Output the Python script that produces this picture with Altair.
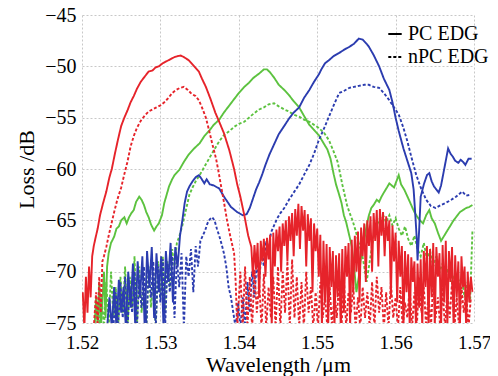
import altair as alt
import pandas as pd

# ---- data (wavelength in um, loss in dB) ----
red_pc = [(1.5201,-72),(1.5203,-75.5),(1.5205,-70.5),(1.5207,-74),(1.5209,-69.5),(1.5211,-72.5),(1.5213,-68.5),
 (1.5215,-67.5),(1.5217,-66.8),(1.5220,-65.8),(1.5223,-64.5),(1.5227,-63.3),(1.5231,-62.2),(1.5235,-60.8),
 (1.5238,-60.0),(1.5242,-58.5),(1.5246,-57.1),(1.5250,-55.8),(1.5254,-55.0),(1.5258,-54.3),(1.5262,-53.5),
 (1.5266,-52.9),(1.5270,-52.2),(1.5275,-51.5),(1.5280,-51.0),(1.5285,-50.5),(1.5290,-50.4),(1.5294,-50.1),
 (1.5298,-50.0),(1.5303,-49.7),(1.5308,-49.5),(1.5313,-49.3),(1.5318,-49.1),(1.5322,-49.0),(1.5326,-48.95),
 (1.5330,-49.1),(1.5336,-49.4),(1.5342,-49.9),(1.5349,-50.5),(1.5353,-51.2),(1.5358,-52.0),(1.5364,-53.2),
 (1.5370,-54.5),(1.5375,-55.4),(1.5381,-56.5),(1.5388,-58.2),(1.5394,-60.0),(1.5398,-61.5),(1.5402,-62.7),
 (1.5407,-64.5),(1.5412,-66.5),(1.5416,-67.6),
 (1.5418,-70.5),(1.5420,-67.4),(1.5422,-69.8),(1.5424,-67.2),(1.5426,-72.5),(1.5428,-67.0),(1.5430,-69.0),
 (1.5432,-66.8),(1.5434,-70.5),(1.5436,-66.7),(1.5438,-68.8),(1.5440,-66.4),(1.5442,-75.5),(1.5444,-66.2),
 (1.5446,-69.5),(1.5448,-65.9),(1.5450,-68.0),(1.5452,-65.6),(1.5454,-70.0),(1.5456,-65.3),(1.5458,-67.5),
 (1.5460,-65.0),(1.5462,-69.0),(1.5464,-64.6),(1.5466,-67.0),(1.5468,-64.3),(1.5470,-68.5),(1.5472,-63.9),
 (1.5474,-66.5),(1.5476,-63.4),(1.5478,-67.8),(1.5480,-63.6),(1.5482,-66.0),(1.5484,-64.0),(1.5486,-69.5),
 (1.5488,-64.4),(1.5490,-67.0),(1.5492,-64.8),(1.5494,-72.0),(1.5496,-65.3),(1.5498,-68.0),(1.5500,-65.8),
 (1.5502,-70.5),(1.5504,-66.4),
 (1.5506,-75.5),(1.5508,-67.0),(1.5510,-73.0),(1.5512,-67.3),(1.5514,-75.5),(1.5516,-67.6),(1.5518,-71.5),
 (1.5520,-68.0),(1.5522,-75.5),(1.5524,-68.4),(1.5526,-72.5),(1.5528,-68.2),(1.5530,-75.5),(1.5532,-67.8),
 (1.5534,-74.0),(1.5536,-67.5),(1.5538,-70.5),(1.5540,-67.2),(1.5542,-75.5),(1.5544,-66.9),(1.5546,-72.0),
 (1.5548,-66.5),
 (1.5550,-70.0),(1.5552,-66.1),(1.5554,-73.0),(1.5556,-65.7),(1.5558,-68.5),(1.5560,-65.3),(1.5562,-71.0),
 (1.5564,-65.0),(1.5566,-67.5),(1.5568,-64.6),(1.5570,-70.0),(1.5572,-64.3),(1.5574,-67.0),(1.5576,-64.0),
 (1.5578,-69.5),(1.5580,-63.9),(1.5582,-66.5),(1.5584,-64.2),(1.5586,-68.5),(1.5588,-64.6),(1.5590,-67.0),
 (1.5592,-65.0),(1.5594,-72.5),(1.5596,-65.5),(1.5598,-69.0),(1.5600,-66.2),
 (1.5602,-73.0),(1.5604,-67.0),(1.5606,-70.5),(1.5608,-67.5),(1.5610,-75.5),(1.5612,-68.0),(1.5614,-72.0),
 (1.5616,-68.3),(1.5618,-75.5),(1.5620,-68.6),(1.5622,-71.0),(1.5624,-69.0),(1.5626,-75.5),(1.5628,-69.2),
 (1.5630,-73.5),(1.5632,-68.8),(1.5634,-75.5),(1.5636,-68.0),(1.5638,-71.5),(1.5640,-67.5),(1.5642,-75.5),
 (1.5644,-67.8),(1.5646,-72.5),(1.5648,-67.2),(1.5650,-75.5),(1.5652,-67.6),(1.5654,-70.5),(1.5656,-68.2),
 (1.5658,-75.5),(1.5660,-67.4),(1.5662,-73.0),(1.5664,-67.0),(1.5666,-75.5),(1.5668,-68.0),(1.5670,-71.0),
 (1.5672,-67.6),(1.5674,-75.5),(1.5676,-68.4),(1.5678,-72.5),(1.5680,-69.0),(1.5682,-75.5),(1.5684,-68.5),
 (1.5686,-71.5),(1.5688,-69.5),(1.5690,-75.5),(1.5692,-70.0),(1.5694,-73.0),(1.5696,-70.5),(1.5698,-72.0)]

red_npc = [(1.5215,-75.5),(1.5218,-72),(1.5220,-75.5),(1.5222,-70.5),(1.5224,-74),(1.5226,-69),(1.5228,-68.5),
 (1.5231,-67.6),(1.5234,-66.5),(1.5237,-65.5),(1.5241,-64.2),(1.5245,-63.0),(1.5250,-61.8),(1.5254,-60.5),
 (1.5258,-59.3),(1.5262,-57.8),(1.5266,-56.8),(1.5270,-56.0),(1.5275,-55.3),(1.5280,-54.8),(1.5285,-54.4),
 (1.5290,-54.2),(1.5295,-54.0),(1.5300,-53.8),(1.5305,-53.5),(1.5310,-53.1),(1.5315,-52.6),(1.5320,-52.3),
 (1.5325,-52.1),(1.5330,-52.0),(1.5335,-52.3),(1.5340,-52.7),(1.5345,-52.9),(1.5349,-53.3),(1.5353,-54.0),
 (1.5358,-55.0),(1.5362,-56.2),(1.5366,-57.5),(1.5371,-59.0),(1.5374,-60.2),(1.5377,-61.5),(1.5381,-63.2),
 (1.5385,-65.0),(1.5389,-66.5),(1.5394,-68.2),(1.5396,-71),(1.5398,-75.5),
 (1.5402,-70),(1.5405,-75.5),(1.5408,-69.5),(1.5411,-75.5),(1.5414,-70.5),(1.5417,-75.5),(1.5420,-69.8),
 (1.5423,-74),(1.5426,-71),(1.5429,-75.5),(1.5432,-70.2),(1.5435,-75.5),(1.5438,-71.5),(1.5441,-74.5),
 (1.5444,-70.5),(1.5447,-75.5),(1.5450,-69.5),(1.5453,-75.5),(1.5456,-70),(1.5459,-74),(1.5462,-69),
 (1.5465,-75.5),(1.5468,-68.8),(1.5471,-74.5),(1.5474,-70.5),(1.5477,-75.5),(1.5480,-71),(1.5483,-75.5),
 (1.5486,-70),(1.5489,-74),(1.5492,-71.5),(1.5495,-75.5),(1.5498,-72),(1.5501,-75.5),(1.5504,-71),
 (1.5507,-74.5),(1.5510,-72.5),(1.5513,-75.5),(1.5516,-71.5),(1.5519,-75.5),(1.5522,-72),(1.5525,-74.5),
 (1.5528,-71),(1.5531,-75.5),(1.5534,-70.5),(1.5537,-75.5),(1.5540,-72),(1.5543,-74),(1.5546,-71.5),
 (1.5549,-75.5),(1.5552,-72.5),(1.5555,-75.5),(1.5558,-71.5),(1.5561,-74.5),(1.5564,-72),(1.5567,-75.5),
 (1.5570,-71),(1.5573,-75.5),(1.5576,-70.5),(1.5579,-74),(1.5582,-71.5),(1.5585,-75.5),(1.5588,-72),
 (1.5591,-75.5),(1.5594,-71),(1.5597,-74.5),(1.5600,-72.5),(1.5603,-75.5),(1.5606,-71.5),(1.5609,-75.5),
 (1.5612,-73),(1.5615,-74.5),(1.5618,-71.5),(1.5621,-75.5),(1.5624,-72),(1.5627,-75.5),(1.5630,-70.5),
 (1.5633,-74),(1.5636,-71.5),(1.5639,-75.5),(1.5642,-72),(1.5645,-75.5),(1.5648,-71),(1.5651,-74.5),
 (1.5654,-72.5),(1.5657,-75.5),(1.5660,-71.5),(1.5663,-75.5),(1.5666,-72),(1.5669,-74.5),(1.5672,-71),
 (1.5675,-75.5),(1.5678,-72.5),(1.5681,-75.5),(1.5684,-71.5),(1.5687,-74),(1.5690,-72),(1.5693,-75.5),
 (1.5696,-72.5)]

green_pc = [(1.5216,-75.5),(1.5218,-72.5),(1.5220,-75.5),(1.5222,-71),(1.5224,-75.5),(1.5226,-73),(1.5228,-70),
 (1.5230,-74.5),(1.5232,-69.5),(1.5234,-68.2),(1.5237,-67.2),(1.5241,-66.6),(1.5244,-65.8),(1.5247,-65.6),
 (1.5250,-65.0),(1.5254,-64.7),(1.5257,-65.3),(1.5260,-64.7),(1.5263,-64.3),(1.5266,-64.0),(1.5269,-63.2),
 (1.5273,-62.7),(1.5276,-63.0),(1.5279,-63.5),(1.5282,-64.2),(1.5285,-64.7),(1.5288,-65.4),(1.5292,-66.0),
 (1.5295,-65.6),(1.5298,-65.3),(1.5302,-64.5),(1.5305,-63.3),(1.5308,-62.5),(1.5311,-61.7),(1.5315,-61.0),
 (1.5318,-60.6),(1.5324,-60.1),(1.5330,-59.3),(1.5336,-58.6),(1.5343,-58.0),(1.5350,-57.5),(1.5356,-56.8),
 (1.5362,-56.3),(1.5368,-55.7),(1.5375,-55.2),(1.5381,-54.5),(1.5388,-53.8),(1.5394,-53.2),(1.5400,-52.6),
 (1.5407,-52.0),(1.5413,-51.6),(1.5419,-51.1),(1.5426,-50.7),(1.5432,-50.3),(1.5436,-50.3),(1.5440,-50.6),
 (1.5445,-51.1),(1.5451,-51.8),(1.5458,-52.3),(1.5464,-52.8),(1.5470,-53.4),(1.5477,-54.0),(1.5483,-54.8),
 (1.5490,-55.7),(1.5496,-56.2),(1.5502,-56.7),(1.5509,-57.6),(1.5513,-58.1),(1.5517,-59.0),(1.5521,-60.5),
 (1.5524,-61.5),(1.5528,-62.5),(1.5531,-63.3),(1.5534,-64.5),(1.5537,-65.2),(1.5541,-66.5),(1.5544,-67.5),
 (1.5547,-69.5),(1.5550,-72.0),(1.5553,-70.5),(1.5556,-68.5),(1.5560,-67.0),(1.5563,-65.5),(1.5566,-64.5),
 (1.5569,-63.8),(1.5572,-63.5),(1.5576,-63.0),(1.5579,-63.2),(1.5582,-62.7),(1.5585,-62.3),(1.5589,-61.8),
 (1.5592,-61.4),(1.5595,-61.6),(1.5598,-61.8),(1.5601,-61.2),(1.5604,-60.6),(1.5607,-61.5),(1.5611,-62.0),
 (1.5614,-62.5),(1.5617,-63.0),(1.5621,-63.7),(1.5624,-64.2),(1.5628,-64.7),(1.5631,-65.0),(1.5635,-65.3),
 (1.5639,-64.5),(1.5643,-64.0),(1.5646,-64.8),(1.5650,-65.3),(1.5654,-66.2),(1.5658,-67.0),(1.5662,-66.5),
 (1.5666,-66.0),(1.5670,-65.5),(1.5674,-65.0),(1.5678,-64.6),(1.5682,-64.2),(1.5686,-64.0),(1.5690,-63.8),
 (1.5694,-63.7),(1.5698,-63.5)]

green_npc = [(1.5222,-75.5),(1.5225,-72.5),(1.5228,-75.5),(1.5231,-71),(1.5234,-75.5),(1.5237,-70),(1.5240,-74.5),
 (1.5243,-71.5),(1.5246,-75.5),(1.5249,-70.5),(1.5252,-74),(1.5255,-69.5),(1.5258,-75.5),(1.5261,-70.5),
 (1.5264,-73.5),(1.5267,-68.5),(1.5270,-75.5),(1.5273,-69.5),(1.5276,-74),(1.5279,-70.5),(1.5282,-75.5),
 (1.5285,-69.5),(1.5288,-73.5),(1.5291,-70),(1.5294,-75.5),(1.5297,-69),(1.5300,-72.5),(1.5303,-68.5),
 (1.5306,-74),(1.5309,-69),(1.5312,-71.5),(1.5315,-67.8),(1.5318,-69.5),(1.5321,-67.2),(1.5324,-66.6),
 (1.5328,-65.5),(1.5331,-64.5),(1.5334,-63.5),(1.5337,-62.5),(1.5341,-61.8),(1.5345,-61.2),(1.5350,-60.6),
 (1.5356,-59.8),(1.5362,-59.0),(1.5368,-58.2),(1.5375,-57.3),(1.5381,-56.7),(1.5388,-56.3),(1.5394,-55.9),
 (1.5400,-55.6),(1.5407,-55.4),(1.5413,-55.0),(1.5419,-54.6),(1.5426,-54.2),(1.5432,-54.0),(1.5438,-53.7),
 (1.5445,-53.6),(1.5451,-53.9),(1.5458,-54.2),(1.5464,-54.4),(1.5470,-54.7),(1.5477,-54.9),(1.5483,-55.2),
 (1.5490,-55.4),(1.5496,-55.7),(1.5502,-56.0),(1.5509,-56.5),(1.5515,-57.2),(1.5521,-58.3),(1.5526,-59.3),
 (1.5528,-60.0),(1.5532,-61.5),(1.5535,-62.5),(1.5538,-63.5),(1.5541,-64.2),(1.5545,-65.0),(1.5549,-66.0),
 (1.5553,-67.2),(1.5557,-68.2),(1.5560,-69.5),(1.5563,-71),(1.5566,-69.5),(1.5569,-68.0),(1.5572,-66.5),
 (1.5576,-65.5),(1.5580,-64.8),(1.5584,-64.5),(1.5588,-65.2),(1.5592,-64.5),(1.5596,-65.5),(1.5600,-64.8),
 (1.5604,-65.8),(1.5608,-66.5),(1.5612,-65.6),(1.5616,-66.8),(1.5620,-67.5),(1.5624,-66.5),(1.5628,-67.8),
 (1.5632,-68.5),(1.5636,-67.2),(1.5640,-68.8),(1.5644,-68.0),(1.5648,-69.5),(1.5652,-68.5),(1.5656,-70.0),
 (1.5660,-69.2),(1.5664,-70.5),(1.5668,-69.5),(1.5672,-71.0),(1.5676,-70.2),(1.5680,-71.5),(1.5684,-70.5),
 (1.5688,-72.5),(1.5692,-71.0),(1.5695,-73),(1.5698,-66)]

blue_pc = [(1.5232,-75.5),(1.5235,-72.5),(1.5238,-75.5),(1.5241,-71.5),(1.5244,-75.5),(1.5247,-70.8),(1.5250,-74),
 (1.5253,-71.5),(1.5256,-75.5),(1.5259,-70),(1.5262,-73.5),(1.5265,-69.2),(1.5268,-75.5),(1.5271,-69),
 (1.5274,-72.5),(1.5277,-68.5),(1.5280,-75.5),(1.5283,-68),(1.5286,-71.5),(1.5289,-67.6),(1.5292,-74.5),
 (1.5295,-68.2),(1.5298,-72),(1.5301,-68.5),(1.5304,-75.5),(1.5307,-68),(1.5310,-71),(1.5313,-67.2),
 (1.5316,-73),(1.5319,-67.6),(1.5322,-69.5),(1.5325,-66.5),(1.5328,-65.0),(1.5331,-63.3),(1.5334,-62.2),
 (1.5337,-61.7),(1.5341,-61.2),(1.5345,-60.8),(1.5349,-60.6),(1.5352,-60.9),(1.5356,-61.4),(1.5359,-61.0),
 (1.5363,-61.5),(1.5368,-61.6),(1.5375,-61.9),(1.5382,-62.8),(1.5390,-63.7),(1.5398,-64.2),(1.5405,-64.5),
 (1.5410,-64.4),(1.5414,-63.8),(1.5418,-62.9),(1.5422,-62.0),(1.5426,-61.3),(1.5430,-60.5),(1.5434,-59.6),
 (1.5439,-58.6),(1.5445,-57.6),(1.5451,-56.6),(1.5458,-55.8),(1.5464,-55.1),(1.5470,-54.5),(1.5477,-54.0),
 (1.5483,-53.1),(1.5490,-52.3),(1.5496,-51.5),(1.5502,-50.8),(1.5506,-50.2),(1.5510,-49.7),(1.5515,-49.4),
 (1.5521,-49.0),(1.5528,-48.7),(1.5534,-48.4),(1.5541,-48.1),(1.5547,-47.8),(1.5553,-47.3),(1.5558,-47.4),
 (1.5563,-47.8),(1.5566,-48.1),(1.5572,-48.9),(1.5579,-50.0),(1.5585,-51.2),(1.5592,-52.3),(1.5596,-53.5),
 (1.5600,-55.0),(1.5604,-56.3),(1.5610,-58.0),(1.5615,-59.2),(1.5620,-60.4),(1.5623,-62.0),(1.5625,-64.3),
 (1.5627,-66.8),(1.5628,-68.9),(1.5630,-66.0),(1.5632,-62.7),(1.5636,-61.5),(1.5640,-60.6),(1.5643,-60.4),
 (1.5646,-61.2),(1.5649,-61.7),(1.5652,-62.0),(1.5655,-62.3),(1.5658,-61.6),(1.5661,-60.4),(1.5664,-59.2),
 (1.5667,-58.0),(1.5670,-58.5),(1.5673,-58.8),(1.5676,-59.2),(1.5680,-59.4),(1.5683,-59.1),(1.5686,-59.3),
 (1.5689,-59.6),(1.5693,-59.0),(1.5697,-59.0)]

blue_npc = [(1.5240,-75.5),(1.5243,-72),(1.5246,-75.5),(1.5249,-71),(1.5252,-74.5),(1.5255,-70.5),(1.5258,-75.5),
 (1.5261,-71.5),(1.5264,-74),(1.5267,-70),(1.5270,-75.5),(1.5273,-70.8),(1.5276,-73.5),(1.5279,-69.5),
 (1.5282,-75.5),(1.5285,-70),(1.5288,-72.5),(1.5291,-69),(1.5294,-75.5),(1.5297,-69.5),(1.5300,-73),
 (1.5303,-68.8),(1.5306,-75.5),(1.5309,-69.2),(1.5312,-72),(1.5315,-68.5),(1.5318,-74.5),(1.5321,-68.8),
 (1.5324,-71.5),(1.5327,-68.2),(1.5330,-75.5),(1.5333,-68.5),(1.5336,-70.5),(1.5339,-67.8),(1.5342,-72),
 (1.5345,-67.5),(1.5348,-69.5),(1.5351,-67),(1.5354,-66.5),(1.5357,-66),(1.5360,-65.3),(1.5363,-64.9),
 (1.5366,-64.7),(1.5369,-65.0),(1.5372,-65.8),(1.5375,-66.5),(1.5378,-67.3),(1.5381,-68.2),(1.5384,-69.5),
 (1.5387,-71.5),(1.5390,-72.5),(1.5393,-74),(1.5396,-75.5),(1.5399,-73),(1.5402,-75.5),(1.5405,-72.5),
 (1.5408,-75.5),(1.5411,-71),(1.5414,-74),(1.5417,-70),(1.5420,-72.5),(1.5423,-69),(1.5426,-71),
 (1.5429,-68),(1.5432,-69.5),(1.5435,-67),(1.5438,-68),(1.5441,-66.2),(1.5445,-65.5),(1.5449,-64.8),
 (1.5453,-64.3),(1.5458,-63.8),(1.5464,-63.0),(1.5470,-62.3),(1.5477,-61.5),(1.5483,-60.6),(1.5490,-59.6),
 (1.5496,-58.5),(1.5502,-57.2),(1.5509,-56.0),(1.5515,-54.9),(1.5521,-53.8),(1.5528,-52.6),(1.5534,-52.4),
 (1.5541,-52.1),(1.5547,-52.0),(1.5553,-51.9),(1.5560,-51.8),(1.5566,-51.8),(1.5572,-52.0),(1.5579,-52.1),
 (1.5585,-52.6),(1.5592,-53.3),(1.5598,-54.0),(1.5604,-54.7),(1.5610,-56.0),(1.5615,-57.3),(1.5620,-58.8),
 (1.5626,-60.5),(1.5632,-61.8),(1.5639,-63.0),(1.5645,-63.6),(1.5651,-63.8),(1.5658,-63.5),(1.5664,-63.3),
 (1.5671,-63.0),(1.5677,-62.7),(1.5685,-62.2),(1.5690,-62.6),(1.5696,-62.5)]

x_ticks = [1.52, 1.53, 1.54, 1.55, 1.56, 1.57]
y_ticks = [-75, -70, -65, -60, -55, -50, -45]
hues = ["green", "blue", "red"]
hue_colors = ["#5cc23f", "#2b3caf", "#e6232a"]
kinds = ["PC EDG", "nPC EDG"]

rows = []
for hue, kind, series in [("red", "PC EDG", red_pc), ("red", "nPC EDG", red_npc),
                          ("green", "PC EDG", green_pc), ("green", "nPC EDG", green_npc),
                          ("blue", "PC EDG", blue_pc), ("blue", "nPC EDG", blue_npc)]:
    for x, y in series:
        rows.append({"x": x, "y": y, "hue": hue, "kind": kind, "series": hue + kind})
df = pd.DataFrame(rows)

FONT = "Liberation Serif"

base = alt.Chart(df).mark_line(clip=True, strokeWidth=1.9, color="black").encode(
    x=alt.X("x:Q", scale=alt.Scale(domain=[1.52, 1.57], nice=False, zero=False),
            axis=alt.Axis(values=x_ticks, format=".2f", title="Wavelength /μm",
                          labelFont=FONT, labelFontSize=19, labelFlush=False,
                          labelBaseline="alphabetic", labelPadding=25,
                          titleBaseline="alphabetic", titleY=48)),
    y=alt.Y("y:Q", scale=alt.Scale(domain=[-75, -45], nice=False, zero=False),
            axis=alt.Axis(values=y_ticks, format="d", title="Loss /dB",
                          labelFont=FONT, labelFontSize=20, labelFlush=False, labelPadding=6,
                          titleAngle=270, titleBaseline="alphabetic", titleX=-49, titleY=154)),
    color=alt.Color("hue:N", scale=alt.Scale(domain=hues, range=hue_colors), legend=None),
    strokeDash=alt.StrokeDash("kind:N", scale=alt.Scale(domain=kinds, range=[[1, 0], [3, 2]]),
                              legend=alt.Legend(title=None, orient="none", legendX=303, legendY=9,
                                                symbolType="stroke", symbolSize=180,
                                                symbolStrokeColor="black", symbolStrokeWidth=2,
                                                labelFont=FONT, labelFontSize=20, labelColor="black",
                                                rowPadding=3, padding=0, labelOffset=3)),
    detail="series:N",
)

chart = alt.layer(*[base.transform_filter(alt.datum.hue == h) for h in hues]).properties(
    width=392, height=308,
    autosize=alt.AutoSizeParams(type="none"),
    padding={"left": 74, "top": 7, "right": 16, "bottom": 53},
).configure(font=FONT).configure_view(stroke=None).configure_axis(
    labelFont=FONT, labelFontSize=20, labelColor="black",
    titleFont=FONT, titleFontSize=22, titleFontWeight="normal", titleColor="black",
    grid=True, gridColor="#c8c8c8", gridDash=[2, 2], gridWidth=1,
    ticks=False, tickSize=0, domain=False,
)

chart.save("out.html", embed_options={"renderer": "svg", "actions": False})
